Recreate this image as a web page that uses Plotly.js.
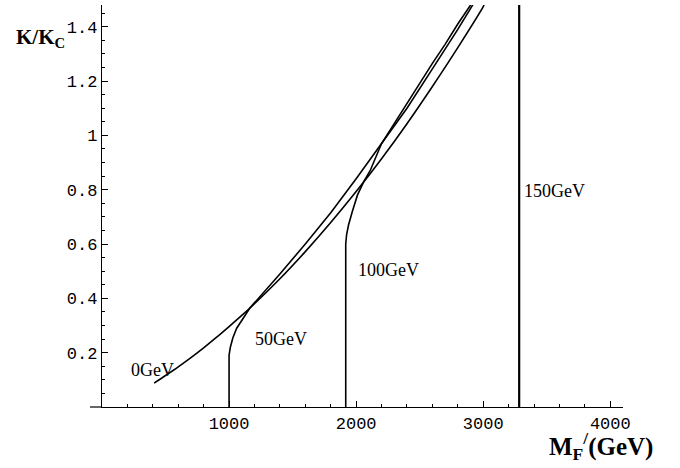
<!DOCTYPE html>
<html><head><meta charset="utf-8">
<script src="https://cdn.plot.ly/plotly-3.0.1.min.js"></script>
<style>html,body{margin:0;padding:0;background:#fff}#c{width:680px;height:468px}</style>
</head><body><div id="c"></div>
<script>
// Data (x = M_F' in GeV, y = K/Kc)
const x0GeV = [410, 500, 600, 700, 800, 900, 1000, 1100, 1200, 1400, 1600, 1800, 2000, 2200, 2400, 2600, 2800, 3000, 3010];
const y0GeV = [0.088, 0.116, 0.148, 0.182, 0.218, 0.256, 0.296, 0.337, 0.380, 0.472, 0.572, 0.679, 0.793, 0.914, 1.043, 1.18, 1.323, 1.474, 1.485];

const x50GeV = [1000, 1000, 1010, 1030, 1060, 1100, 1165, 1400, 1600, 1800, 2000, 2200, 2400, 2600, 2800, 2930];
const y50GeV = [0.0, 0.19, 0.22, 0.255, 0.29, 0.32, 0.365, 0.49, 0.60, 0.715, 0.84, 0.97, 1.10, 1.245, 1.39, 1.49];

const x100GeV = [1918, 1918, 1925, 1940, 1970, 2010, 2060, 2110, 2200, 2300, 2400, 2500, 2600, 2700, 2800, 2915];
const y100GeV = [0.0, 0.60, 0.635, 0.67, 0.72, 0.78, 0.83, 0.87, 0.97, 1.045, 1.12, 1.19, 1.265, 1.335, 1.41, 1.49];

const x150GeV = [3283, 3283];
const y150GeV = [0.0, 1.49];

const curveLabels = ["0GeV", "50GeV", "100GeV", "150GeV"];
const labelX = [400, 1409, 2252, 3560];
const labelY = [0.136, 0.25, 0.505, 0.796];

const xTickVals = [1000, 2000, 3000, 4000];
const xTickText = ["1000", "2000", "3000", "4000"];
const yTickVals = [0.2, 0.4, 0.6, 0.8, 1.0, 1.2, 1.4];
const yTickText = ["0.2", "0.4", "0.6", "0.8", "1", "1.2", "1.4"];

const lineStyle = {color: "#000", width: 1.6};
const traces = [
  {x: x0GeV, y: y0GeV, mode: "lines", line: {color: "#000", width: 1.6, shape: "spline", smoothing: 0.8}, hoverinfo: "skip"},
  {x: x50GeV, y: y50GeV, mode: "lines", line: lineStyle, hoverinfo: "skip"},
  {x: x100GeV, y: y100GeV, mode: "lines", line: lineStyle, hoverinfo: "skip"},
  {x: x150GeV, y: y150GeV, mode: "lines", line: {color: "#000", width: 2.2}, hoverinfo: "skip"}
];

const labelFont = {family: "Liberation Serif, Times New Roman, serif", size: 18, color: "#000"};
const annotations = curveLabels.map((t, i) => ({
  x: labelX[i], y: labelY[i], xref: "x", yref: "y", text: t, showarrow: false,
  font: labelFont, xanchor: "center", yanchor: "middle"
}));
annotations.push({
  xref: "paper", yref: "paper", x: -0.169, y: 0.918, xanchor: "left", yanchor: "middle",
  text: "<b>K/K<sub>C</sub></b>", showarrow: false,
  font: {family: "Liberation Serif, Times New Roman, serif", size: 21, color: "#000"}
});
annotations.push({
  xref: "paper", yref: "paper", x: 0.854, y: -0.097, xanchor: "left", yanchor: "middle",
  text: "<b>M<sub>F</sub><sup>/</sup>(GeV)</b>", showarrow: false,
  font: {family: "Liberation Serif, Times New Roman, serif", size: 25, color: "#000"}
});

const tickFont = {family: "Liberation Mono, Courier New, monospace", size: 17, color: "#000"};
const layout = {
  width: 680, height: 468,
  margin: {l: 102, r: 57, t: 5, b: 61},
  paper_bgcolor: "#fff", plot_bgcolor: "#fff",
  showlegend: false,
  xaxis: {
    range: [0, 4100], showgrid: false, zeroline: false,
    showline: true, linecolor: "#000", linewidth: 1.2,
    ticks: "inside", ticklen: 6, tickwidth: 1, tickcolor: "#000",
    tickmode: "array", tickvals: xTickVals, ticktext: xTickText,
    tickfont: tickFont,
    minor: {tickmode: "linear", tick0: 0, dtick: 200, ticks: "inside", ticklen: 3, tickwidth: 1, tickcolor: "#000", showgrid: false}
  },
  yaxis: {
    range: [0, 1.48], showgrid: false, zeroline: false,
    showline: true, linecolor: "#000", linewidth: 1.2,
    ticks: "inside", ticklen: 6, tickwidth: 1, tickcolor: "#000",
    tickmode: "array", tickvals: yTickVals, ticktext: yTickText,
    tickfont: tickFont,
    minor: {tickmode: "linear", tick0: 0, dtick: 0.05, ticks: "inside", ticklen: 3, tickwidth: 1, tickcolor: "#000", showgrid: false}
  },
  shapes: [
    {type: "line", xref: "paper", yref: "paper", x0: -12/521, x1: 0, y0: 0, y1: 0, line: {color: "#000", width: 1.2}}
  ],
  annotations: annotations
};
Plotly.newPlot("c", traces, layout, {staticPlot: true, displayModeBar: false});
</script></body></html>
